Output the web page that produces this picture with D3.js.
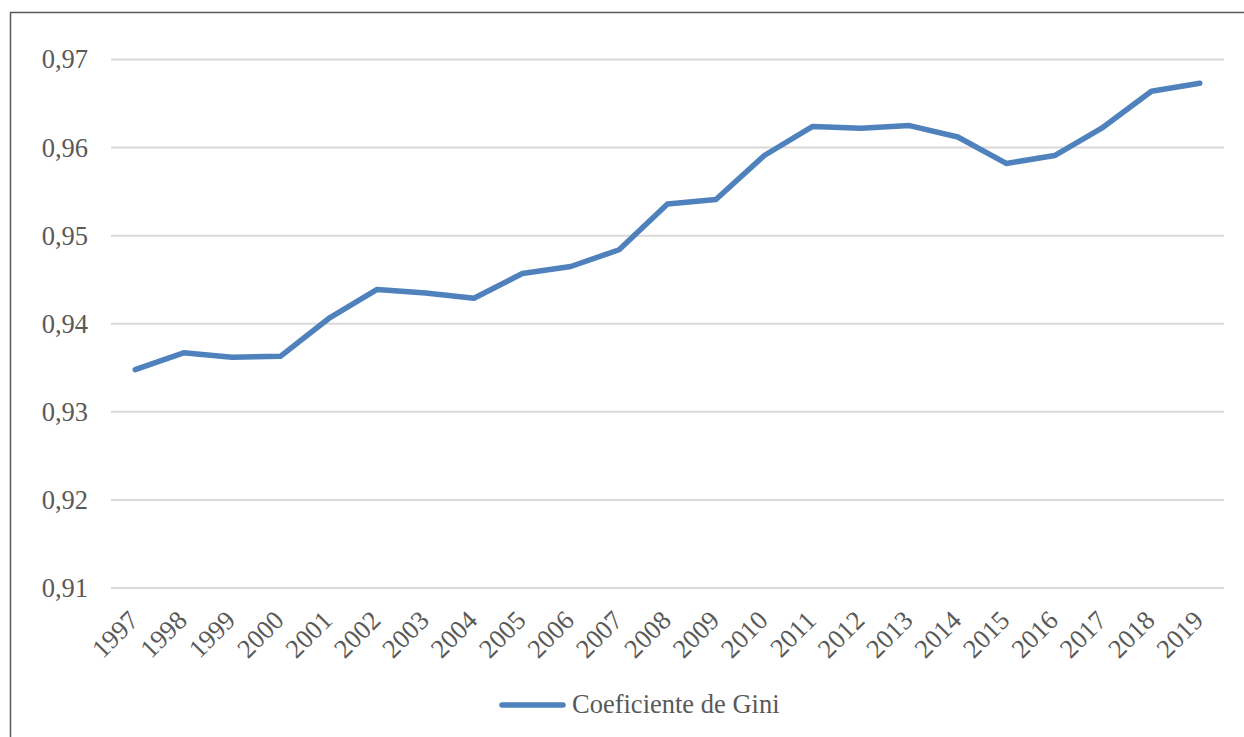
<!DOCTYPE html>
<html lang="en">
<head>
<meta charset="utf-8">
<style>
  body { margin: 0; background: #fff; }
  text { font-family: "Liberation Serif", "Times New Roman", serif; fill: #595959; }
  .grid line { stroke: #d9d9d9; stroke-width: 2px; }
</style>
</head>
<body>
<svg width="1244" height="737"></svg>
<script src="https://d3js.org/d3.v7.min.js"></script>
<script>
// Coeficiente de Gini, 1997-2019
var years = ["1997","1998","1999","2000","2001","2002","2003","2004","2005","2006","2007","2008",
             "2009","2010","2011","2012","2013","2014","2015","2016","2017","2018","2019"];
var gini = [0.9348, 0.9367, 0.9362, 0.9363, 0.9406, 0.9439, 0.9435, 0.9429, 0.9457, 0.9465, 0.9484, 0.9536,
            0.9541, 0.9591, 0.9624, 0.9622, 0.9625, 0.9612, 0.9582, 0.9591, 0.9623, 0.9664, 0.9673];
var yTicks = [0.91, 0.92, 0.93, 0.94, 0.95, 0.96, 0.97];
var seriesName = "Coeficiente de Gini";

var svg = d3.select("svg");

// outer frame
svg.append("rect")
    .attr("x", 10.5).attr("y", 12.5)
    .attr("width", 1250).attr("height", 740)
    .attr("fill", "none").attr("stroke", "#595959").attr("stroke-width", 1.5);

var plotLeft = 111, plotRight = 1224, plotTop = 59.5, plotBottom = 588;

var x = d3.scaleBand().domain(years).range([plotLeft, plotRight]);
var y = d3.scaleLinear().domain([0.91, 0.97]).range([plotBottom, plotTop]);

// gridlines
svg.append("g").attr("class", "grid")
    .selectAll("line").data(yTicks).enter().append("line")
    .attr("x1", plotLeft).attr("x2", plotRight)
    .attr("y1", function (d) { return y(d); })
    .attr("y2", function (d) { return y(d); });

// y axis labels
var yAxis = svg.append("g")
    .attr("transform", "translate(" + (plotLeft - 23) + ",0)")
    .call(d3.axisLeft(y).tickValues(yTicks).tickSize(0)
        .tickFormat(function (d) { return d3.format(".2f")(d).replace(".", ","); }));
yAxis.select(".domain").remove();
yAxis.selectAll("text")
    .attr("x", 0).attr("dy", "0.32em")
    .style("font-size", "26.5px").style("font-family", null).attr("fill", null);

// x axis labels, rotated
var xAxis = svg.append("g")
    .attr("transform", "translate(0," + plotBottom + ")")
    .call(d3.axisBottom(x).tickSize(0));
xAxis.select(".domain").remove();
xAxis.selectAll("text")
    .attr("y", 0).attr("dy", 0)
    .attr("fill", null).style("font-family", null)
    .style("font-size", "26.5px")
    .style("text-anchor", "end")
    .attr("transform", "translate(5,34) rotate(-45)");

// series line
var line = d3.line()
    .x(function (d, i) { return x(years[i]) + x.bandwidth() / 2; })
    .y(function (d) { return y(d); });

svg.append("path")
    .datum(gini)
    .attr("d", line)
    .attr("fill", "none")
    .attr("stroke", "#4f81bd")
    .attr("stroke-width", 5.5)
    .attr("stroke-linejoin", "round")
    .attr("stroke-linecap", "round");

// legend
var legend = svg.append("g").attr("transform", "translate(502,705)");
legend.append("line")
    .attr("x1", 0).attr("x2", 61)
    .attr("stroke", "#4f81bd").attr("stroke-width", 5.5).attr("stroke-linecap", "round");
legend.append("text")
    .attr("x", 70).attr("dy", "0.32em")
    .style("font-size", "26.5px")
    .text(seriesName);
</script>
</body>
</html>
